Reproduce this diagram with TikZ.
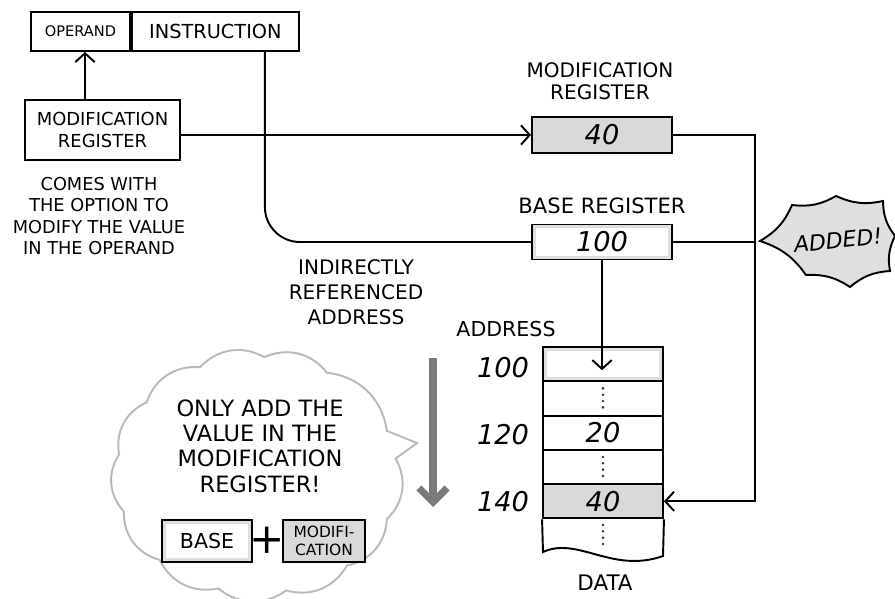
\documentclass[tikz,border=0pt]{standalone}
\usepackage{fontspec}
\setmainfont{DejaVu Sans}
\usetikzlibrary{arrows.meta}

\begin{document}
\begin{tikzpicture}[x=0.02cm, y=-0.02cm,
  wire/.style={line width=1.1pt},
  arr/.style={wire, -{Straight Barb[length=5pt,width=11pt]}},
  box/.style={draw, line width=1.1pt, inner sep=0pt},
  shaded/.style={box, fill=gray!30},
  rimbox/.style={box, fill=gray!25,
    path picture={\fill[white]
      ([shift={(2.2pt,-2.2pt)}]path picture bounding box.north west) rectangle
      ([shift={(-2.2pt,2.2pt)}]path picture bounding box.south east);}},
  cellbox/.style={minimum width=2.4cm, minimum height=0.686cm},
  regbox/.style={minimum width=2.8cm},
  lbl/.style={font=\fontsize{11.4}{12.5}\selectfont, align=center, inner sep=0pt},
  num/.style={font=\fontsize{15.5}{17}\selectfont\itshape, inner sep=0pt},
  dots/.style={line width=1.6pt, line cap=round, dash pattern=on 0pt off 3.6pt, black!80},
  cloudline/.style={draw=gray!55, line width=1.1pt, fill=white},
]
\useasboundingbox (0,0) rectangle (895,598);

% instruction word
\node[box, minimum width=1.98cm, minimum height=0.78cm,
      font=\fontsize{8.3}{9}\selectfont] (operand) at (80.5,31.5) {OPERAND};
\node[box, minimum width=3.34cm, minimum height=0.78cm, anchor=west,
      font=\fontsize{11}{12}\selectfont] (instr) at (operand.east) {INSTRUCTION};

% modification register selected by the instruction
\node[box, minimum width=3.1cm, minimum height=1.2cm,
      font=\fontsize{10.2}{12}\selectfont, align=center] (modL) at (102.5,130)
      {MODIFICATION\\REGISTER};
\node[lbl, font=\fontsize{10.1}{12}\selectfont] (comes) at (99,216)
      {COMES WITH\\THE OPTION TO\\MODIFY THE VALUE\\IN THE OPERAND};

% registers
\node[lbl, font=\fontsize{11.4}{12.6}\selectfont] (modRlbl) at (600,81) {MODIFICATION\\REGISTER};
\node[shaded, regbox, minimum height=0.72cm, num] (modR) at (602,135) {40};
\node[lbl, font=\fontsize{12}{13}\selectfont] (baseRlbl) at (602,206) {BASE REGISTER};
\node[rimbox, regbox, minimum height=0.7cm, num] (baseR) at (602,242) {100};

\node[lbl, font=\fontsize{11.4}{14.2}\selectfont] (indir) at (356,292)
      {INDIRECTLY\\REFERENCED\\ADDRESS};

% memory column
\node[rimbox, cellbox] (c1) at (603,364.2) {};
\node[box, cellbox] (c2) at (603,398.5) {};
\node[box, cellbox, num] (c3) at (603,432.8) {20};
\node[box, cellbox] (c4) at (603,467.1) {};
\node[shaded, cellbox, num] (c5) at (603,501.3) {40};
\draw[wire] (c5.south west) -- (543,552)
  .. controls (578,536) and (612,574) .. (663,556) -- (c5.south east);
\draw[dots] ([yshift=-0.16cm]c2.north) -- ([yshift=0.14cm]c2.south);
\draw[dots] ([yshift=-0.16cm]c4.north) -- ([yshift=0.14cm]c4.south);
\draw[dots] (603,525) -- (603,548);

\node[lbl, font=\fontsize{11.7}{12}\selectfont] (addr) at (506,329) {ADDRESS};
\node[num] (a100) at (503,368) {100};
\node[num] (a120) at (503,435) {120};
\node[num] (a140) at (503,502) {140};
\node[lbl, font=\fontsize{12.2}{13}\selectfont] (data) at (605,583) {DATA};

% connectors
\coordinate (bus) at (755,300);
\draw[arr] ([xshift=0.09cm]operand.south |- modL.north) -- ([xshift=0.09cm]operand.south);
\draw[wire, rounded corners=0.7cm] ([xshift=0.99cm]instr.south) |- (baseR.west);
\draw[arr] (modL.east |- modR.west) -- (modR.west);
\draw[arr] (modR.east) -| (bus) |- (c5.east);
\draw[line width=1.2pt] (baseR.east) -- (baseR.east -| bus);
\draw[arr] (baseR.south) -- ([yshift=-0.12cm]baseR.south |- c1.center);

% burst
\filldraw[wire, fill=gray!25]
  (760,241) to[bend right=18] (792,205) to[bend right=18] (836,196)
  to[bend right=18] (883,201) to[bend right=18] (895,236)
  to[bend right=18] (890,271) to[bend right=18] (850,287)
  to[bend right=18] (806,275) to[bend right=18] cycle;
\node[font=\fontsize{12.5}{13}\selectfont\itshape, rotate=6] (added) at (838,240) {ADDED!};

% thought bubble
\draw[cloudline]
  (327,372.8) to[bend left=38] (386.8,430.8) -- (417,443) -- (395.6,458.6)
  to[bend left=38] (386.8,519.2) to[bend left=38] (347,565.4)
  to[bend left=38] (286.1,590.4) to[bend left=38] (218.4,588.4)
  to[bend left=38] (159.7,559.9) to[bend left=38] (123.9,511.5)
  to[bend left=38] (119.1,454.5) to[bend left=38] (146.7,402.3)
  to[bend left=38] (200.1,367.2) to[bend left=38] (264.3,357.1)
  to[bend left=38] cycle;
\node[lbl, font=\fontsize{12.8}{14.4}\selectfont] (only) at (260,446)
  {ONLY ADD THE\\VALUE IN THE\\MODIFICATION\\REGISTER!};
\node[rimbox, minimum width=1.8cm, minimum height=0.84cm,
      font=\fontsize{11.7}{12}\selectfont] (bbase) at (207,541) {BASE};
\node[font=\fontsize{24}{24}\selectfont, inner sep=0pt] (plus) at (267,540) {+};
\node[shaded, minimum width=1.64cm, minimum height=0.84cm, align=center,
      font=\fontsize{8.8}{10.2}\selectfont] (bmod) at (324,541) {MODIFI-\\CATION};

% downward arrow
\coordinate (g1) at (433,358);
\coordinate (g2) at (433,507);
\draw[line width=4pt, black!52, -{Straight Barb[length=8pt,width=16pt]}] (g1) -- (g2);
\end{tikzpicture}
\end{document}
